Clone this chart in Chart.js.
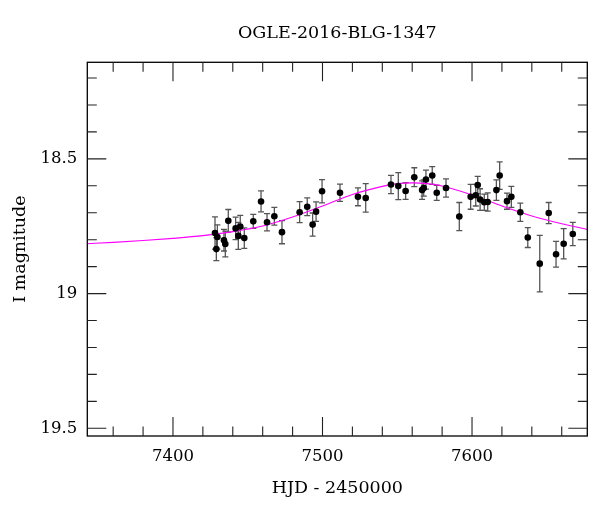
<!DOCTYPE html>
<html>
<head>
<meta charset="utf-8">
<script src="https://cdn.jsdelivr.net/npm/chart.js@4.4.1/dist/chart.umd.min.js"></script>
<style>
html,body{margin:0;padding:0;background:#fff;}
#wrap{width:600px;height:512px;}
</style>
</head>
<body>
<div id="wrap"><canvas id="c" width="600" height="512"></canvas></div>
<script>
const titleText = "OGLE-2016-BLG-1347";
const xTitle = "HJD - 2450000";
const yTitle = "I magnitude";

const obsHJD = [7428.1,7429.7,7429.0,7434.1,7435.0,7437.0,7441.9,7443.7,7445.0,7447.7,7453.7,7458.9,7462.9,7467.8,7472.9,7484.7,7489.8,7493.4,7495.7,7499.7,7511.7,7523.7,7528.9,7545.8,7550.7,7555.6,7561.4,7566.6,7567.7,7569.2,7573.4,7576.4,7582.6,7591.5,7599.1,7602.5,7603.8,7605.4,7608.2,7610.5,7616.3,7618.5,7623.4,7626.3,7632.3,7637.3,7645.3,7651.3,7656.2,7661.3,7667.4];
const obsMag = [18.775,18.790,18.835,18.802,18.816,18.730,18.758,18.786,18.751,18.794,18.732,18.658,18.735,18.713,18.772,18.698,18.678,18.744,18.696,18.620,18.626,18.641,18.645,18.595,18.601,18.619,18.568,18.616,18.608,18.577,18.562,18.626,18.608,18.714,18.641,18.635,18.597,18.651,18.661,18.660,18.616,18.562,18.657,18.641,18.698,18.792,18.889,18.701,18.854,18.815,18.779];
const obsErr = [0.060,0.045,0.043,0.040,0.048,0.042,0.042,0.050,0.041,0.038,0.026,0.039,0.032,0.033,0.043,0.039,0.033,0.043,0.036,0.043,0.032,0.033,0.053,0.034,0.050,0.031,0.035,0.034,0.030,0.035,0.033,0.028,0.034,0.052,0.046,0.040,0.032,0.040,0.030,0.034,0.038,0.051,0.030,0.039,0.034,0.037,0.105,0.039,0.048,0.056,0.043];

const modelHJD = [7342,7360,7380,7400,7420,7440,7460,7480,7500,7520,7540,7550,7560,7570,7580,7600,7620,7640,7660,7678];
const modelMag = [18.815,18.810,18.803,18.795,18.785,18.770,18.749,18.716,18.675,18.632,18.602,18.592,18.589,18.592,18.601,18.634,18.675,18.712,18.741,18.763];

const xMin = 7342.7, xMax = 7677.1;
const yMin = 18.1416, yMax = 19.5286;
const xMajor = [7400,7500,7600];
const xMinor = [7360,7380,7420,7440,7460,7480,7520,7540,7560,7580,7620,7640,7660];
const yMajor = [18.5,19,19.5];
const yMinor = [18.2,18.3,18.4,18.6,18.7,18.8,18.9,19.1,19.2,19.3,19.4];

const errorBars = {
  id: 'errorBars',
  beforeDatasetsDraw(chart) {
    const {ctx, scales:{x, y}} = chart;
    ctx.save();
    ctx.beginPath();
    ctx.rect(chart.chartArea.left, chart.chartArea.top, chart.chartArea.right-chart.chartArea.left, chart.chartArea.bottom-chart.chartArea.top);
    ctx.clip();
    ctx.strokeStyle = '#555';
    ctx.lineWidth = 1.3;
    for (let i = 0; i < obsHJD.length; i++) {
      const px = x.getPixelForValue(obsHJD[i]);
      const y1 = y.getPixelForValue(obsMag[i] - obsErr[i]);
      const y2 = y.getPixelForValue(obsMag[i] + obsErr[i]);
      ctx.beginPath();
      ctx.moveTo(px, y1); ctx.lineTo(px, y2);
      ctx.moveTo(px-3, y1); ctx.lineTo(px+3, y1);
      ctx.moveTo(px-3, y2); ctx.lineTo(px+3, y2);
      ctx.stroke();
    }
    ctx.restore();
  }
};

const frameTicks = {
  id: 'frameTicks',
  afterDraw(chart) {
    const {ctx, chartArea:a, scales:{x, y}} = chart;
    ctx.save();
    ctx.strokeStyle = '#000';
    ctx.lineWidth = 1.3;
    ctx.strokeRect(a.left, a.top, a.right-a.left, a.bottom-a.top);
    ctx.lineWidth = 1.1;
    ctx.strokeStyle = '#222';
    ctx.beginPath();
    const xt = (v, len) => {
      const p = x.getPixelForValue(v);
      ctx.moveTo(p, a.bottom); ctx.lineTo(p, a.bottom-len);
      ctx.moveTo(p, a.top); ctx.lineTo(p, a.top+len);
    };
    const yt = (v, len) => {
      const p = y.getPixelForValue(v);
      ctx.moveTo(a.left, p); ctx.lineTo(a.left+len, p);
      ctx.moveTo(a.right, p); ctx.lineTo(a.right-len, p);
    };
    xMajor.forEach(v => xt(v, 19));
    xMinor.forEach(v => xt(v, 9.5));
    yMajor.forEach(v => yt(v, 19));
    yMinor.forEach(v => yt(v, 9.5));
    ctx.stroke();
    ctx.restore();
  }
};

const serif = "'DejaVu Serif', serif";

new Chart(document.getElementById('c'), {
  data: {
    datasets: [
      {
        type: 'scatter',
        data: obsHJD.map((t, i) => ({x: t, y: obsMag[i]})),
        backgroundColor: '#000',
        borderColor: '#000',
        pointRadius: 3.3,
        borderWidth: 0
      },
      {
        type: 'line',
        data: modelHJD.map((t, i) => ({x: t, y: modelMag[i]})),
        borderColor: '#ff00ff',
        borderWidth: 1.1,
        pointRadius: 0,
        fill: false,
        cubicInterpolationMode: 'monotone'
      }
    ]
  },
  options: {
    responsive: false,
    animation: false,
    devicePixelRatio: 1,
    layout: { padding: { left: 0, right: 12.7, top: 0, bottom: 0 } },
    plugins: {
      legend: { display: false },
      tooltip: { enabled: false },
      title: {
        display: true,
        text: titleText,
        fullSize: false,
        color: '#000',
        font: { family: serif, size: 17.5, weight: 'normal' },
        padding: { top: 22.5, bottom: 18.8 }
      }
    },
    scales: {
      x: {
        type: 'linear',
        min: xMin, max: xMax,
        grid: { display: false, drawTicks: false },
        border: { display: false },
        afterBuildTicks: s => { s.ticks = xMajor.map(v => ({value: v})); },
        afterFit: s => { s.height = 76; },
        ticks: {
          color: '#000',
          padding: 11,
          maxRotation: 0,
          font: { family: serif, size: 16.5 },
          callback: v => String(v)
        },
        title: {
          display: true, text: xTitle, color: '#000',
          font: { family: serif, size: 17.5 },
          padding: { top: 0, bottom: 13 }
        }
      },
      y: {
        type: 'linear',
        reverse: true,
        min: yMin, max: yMax,
        grid: { display: false, drawTicks: false },
        border: { display: false },
        afterBuildTicks: s => { s.ticks = yMajor.map(v => ({value: v})); },
        afterFit: s => { s.width = 87.3; },
        ticks: {
          color: '#000',
          padding: 10,
          font: { family: serif, size: 16.5 },
          callback: v => String(v)
        },
        title: {
          display: true, text: yTitle, color: '#000',
          font: { family: serif, size: 17.5 },
          padding: { top: 9.5, bottom: 0 }
        }
      }
    }
  },
  plugins: [errorBars, frameTicks]
});
</script>
</body>
</html>
